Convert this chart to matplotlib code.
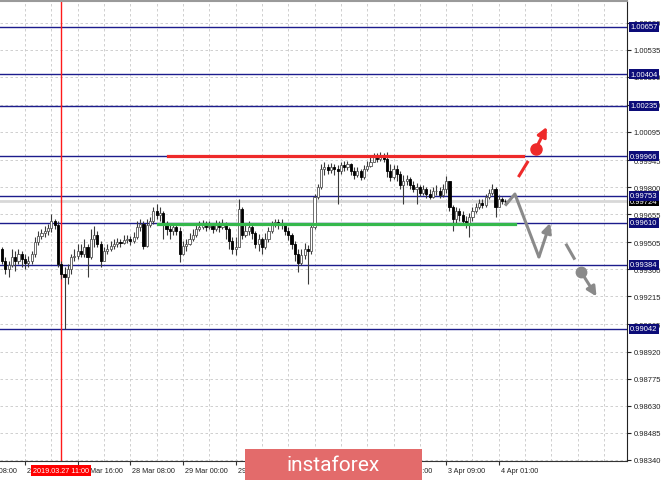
import numpy as np
import matplotlib
matplotlib.use("Agg")
import matplotlib.pyplot as plt
import matplotlib.transforms as mtransforms
from matplotlib.patches import Rectangle, FancyArrowPatch

plt.rcParams['font.family'] = ['Liberation Sans', 'DejaVu Sans']

# H1 candles, prices in points (1e-5)
first_open = 99469
close_pts = [
    99405, 99362, 99383, 99426, 99405, 99442, 99415, 99394, 99405, 99442,
    99506, 99538, 99554, 99565, 99581, 99619, 99597, 99389, 99335, 99319,
    99362, 99426, 99431, 99458, 99442, 99480, 99426, 99522, 99544, 99496,
    99405, 99458, 99469, 99485, 99496, 99506, 99501, 99517, 99522, 99512,
    99533, 99587, 99603, 99485, 99597, 99619, 99672, 99651, 99661, 99603,
    99576, 99565, 99587, 99565, 99442, 99485, 99496, 99522, 99544, 99576,
    99587, 99597, 99587, 99592, 99576, 99597, 99587, 99603, 99576, 99512,
    99469, 99480, 99683, 99544, 99565, 99587, 99554, 99496, 99522, 99480,
    99522, 99565, 99603, 99613, 99597, 99603, 99565, 99544, 99496, 99442,
    99394, 99437, 99469, 99458, 99587, 99747, 99801, 99897, 99908, 99892,
    99908, 99897, 99886, 99918, 99908, 99924, 99886, 99865, 99886, 99854,
    99897, 99913, 99934, 99961, 99950, 99966, 99950, 99886, 99854, 99897,
    99870, 99811, 99833, 99843, 99811, 99790, 99801, 99768, 99790, 99763,
    99747, 99779, 99779, 99758, 99790, 99833, 99694, 99629, 99672, 99651,
    99619, 99608, 99640, 99672, 99694, 99715, 99704, 99747, 99768, 99790,
    99694, 99736, 99726, 99724,
]
high_pts = [
    99480, 99426, 99405, 99469, 99458, 99469, 99458, 99442, 99431, 99458,
    99533, 99565, 99576, 99592, 99603, 99656, 99629, 99619, 99405, 99373,
    99389, 99442, 99469, 99496, 99496, 99522, 99496, 99576, 99592, 99565,
    99512, 99480, 99496, 99512, 99522, 99528, 99522, 99544, 99544, 99538,
    99560, 99619, 99629, 99619, 99629, 99640, 99694, 99710, 99694, 99672,
    99619, 99603, 99608, 99597, 99587, 99512, 99522, 99554, 99576, 99597,
    99619, 99624, 99619, 99619, 99608, 99624, 99619, 99629, 99613, 99587,
    99533, 99533, 99736, 99694, 99608, 99619, 99597, 99565, 99549, 99533,
    99554, 99587, 99619, 99629, 99629, 99629, 99608, 99587, 99554, 99512,
    99469, 99469, 99501, 99490, 99603, 99763, 99817, 99924, 99934, 99924,
    99929, 99924, 99918, 99934, 99940, 99940, 99929, 99908, 99908, 99897,
    99918, 99940, 99961, 99982, 99982, 99988, 99982, 99988, 99924, 99918,
    99918, 99886, 99865, 99865, 99854, 99833, 99822, 99811, 99811, 99801,
    99790, 99801, 99811, 99801, 99817, 99859, 99833, 99704, 99694, 99688,
    99672, 99645, 99661, 99694, 99715, 99736, 99736, 99763, 99790, 99817,
    99801, 99758, 99747, 99736,
]
low_pts = [
    99389, 99335, 99319, 99373, 99351, 99389, 99373, 99362, 99373, 99389,
    99426, 99490, 99522, 99533, 99544, 99560, 99576, 99373, 99308, 99041,
    99282, 99335, 99405, 99415, 99426, 99426, 99319, 99415, 99480, 99480,
    99373, 99405, 99442, 99458, 99469, 99480, 99480, 99496, 99501, 99490,
    99501, 99522, 99565, 99469, 99480, 99587, 99603, 99629, 99619, 99522,
    99544, 99522, 99544, 99544, 99399, 99437, 99458, 99490, 99512, 99533,
    99565, 99576, 99565, 99576, 99554, 99565, 99560, 99576, 99522, 99469,
    99442, 99437, 99480, 99522, 99533, 99544, 99522, 99474, 99458, 99442,
    99469, 99506, 99554, 99587, 99576, 99576, 99544, 99517, 99469, 99405,
    99346, 99383, 99415, 99282, 99442, 99576, 99736, 99790, 99865, 99870,
    99875, 99865, 99710, 99870, 99886, 99892, 99865, 99843, 99854, 99838,
    99843, 99886, 99908, 99940, 99934, 99940, 99934, 99854, 99833, 99843,
    99833, 99790, 99710, 99811, 99790, 99774, 99710, 99752, 99758, 99742,
    99736, 99742, 99758, 99742, 99747, 99768, 99672, 99565, 99608, 99619,
    99597, 99581, 99533, 99619, 99661, 99683, 99688, 99694, 99736, 99758,
    99640, 99704, 99710, 99710,
]

# levels drawn on the chart
levels = [1.00657, 1.00404, 1.00235, 0.99966, 0.99753, 0.99610, 0.99384, 0.99042]
last_price = 0.99724
resistance = 0.99966
support = 0.99600
price_ticks = [0.98340, 0.98485, 0.98630, 0.98775, 0.98920, 0.99065, 0.99215,
               0.99360, 0.99505, 0.99655, 0.99800, 0.99945, 1.00095, 1.00240,
               1.00390, 1.00535, 1.00680]

# time axis (bar index -> label); labels fully under the watermark are left out
time_tick_bars = [-9, 7, 23, 39, 55, 71, 87, 103, 119, 135, 151]
time_tick_labels = ['26 Mar 08:00', '27 Mar 00:00', '27 Mar 16:00', '28 Mar 08:00',
                    '29 Mar 00:00', '29 Mar 16:00', '', '',
                    '2 Apr 16:00', '3 Apr 09:00', '4 Apr 01:00']
cursor_bar = 18
cursor_label = '2019.03.27 11:00'

# forecast paths (bar index, price)
down_path_x = [152.9, 155.9, 163.2, 166.6]
down_path_y = [0.99701, 0.99763, 0.99426, 0.99608]
red_dash_x = [157.2, 159.7]
red_dash_y = [0.99861, 0.99933]
red_arrow = [(162.2, 1.00004), (165.6, 1.00122)]
gray_dash_x = [171.6, 173.9]
gray_dash_y = [0.99490, 0.99419]
gray_arrow = [(176.1, 0.99344), (180.7, 0.99215)]

NAVY = '#1c1c8c'
closes = np.array(close_pts) / 1e5
highs = np.array(high_pts) / 1e5
lows = np.array(low_pts) / 1e5
opens = np.concatenate([[first_open / 1e5], closes[:-1]])
idx = np.arange(len(closes))

fig = plt.figure(figsize=(6.65, 4.81), dpi=100)
ax = fig.add_axes([0, 19 / 481, 627 / 665, 460.5 / 481])
ax.set_xlim(-0.61, 189.97)
ax.set_ylim(0.983346, 1.007985)

# grid
ax.set_yticks(price_ticks)
ax.set_yticklabels([f'{v:.5f}' for v in price_ticks])
ax.set_xticks([b for b in time_tick_bars if b >= 0])
ax.set_xticklabels([])
ax.set_xticks(np.arange(7, 190, 8), minor=True)
ax.grid(True, which='both', linestyle=(0, (3, 3)), color='#c8c8c8', linewidth=0.6)
ax.tick_params(axis='x', which='minor', length=0)
ax.tick_params(axis='x', which='major', length=3, color='#333')
ax.yaxis.tick_right()
ax.tick_params(axis='y', length=3, pad=2, labelsize=5.5, colors='#222')
ax.set_axisbelow(True)

ax.spines['left'].set_visible(False)
ax.spines['top'].set_color('#9a9a9a')
ax.spines['top'].set_linewidth(1.5)
ax.spines['right'].set_color('#222')
ax.spines['bottom'].set_color('#333')

# level lines
ax.axhline(last_price, color='#d8d8d8', linewidth=2, zorder=1)
for lv in levels:
    ax.axhline(lv, color=NAVY, linewidth=1, zorder=1.5)
ax.axvline(cursor_bar, color='#ff1a1a', linewidth=1, zorder=1.6)

# candles
up = closes >= opens
wick_lo = np.minimum(lows, np.minimum(opens, closes))
wick_hi = np.maximum(highs, np.maximum(opens, closes))
ax.vlines(idx, wick_lo, wick_hi, color='#3a3a3a', linewidth=0.8, zorder=3)
body = np.maximum(np.abs(closes - opens), 0.00002)
ax.bar(idx[up], body[up], bottom=np.minimum(opens, closes)[up], width=0.65,
       color='white', edgecolor='#555', linewidth=0.6, zorder=4)
ax.bar(idx[~up], body[~up], bottom=np.minimum(opens, closes)[~up], width=0.65,
       color='black', edgecolor='black', linewidth=0.6, zorder=4)

# support / resistance
ax.plot([50.5, 158.3], [resistance, resistance], color='#ee2a2a', linewidth=2.3, zorder=5)
ax.plot([47.4, 156.0], [support, support], color='#35b84c', linewidth=2.3, zorder=5)

# forecast arrows
GRAY = '#8a8a8a'
ax.plot(down_path_x[:3], down_path_y[:3], color=GRAY, linewidth=2.2, zorder=6,
        solid_capstyle='butt')
ax.add_patch(FancyArrowPatch((down_path_x[2], down_path_y[2]), (down_path_x[3], down_path_y[3]),
                             arrowstyle='-|>', mutation_scale=14, color=GRAY,
                             linewidth=2.2, shrinkA=0, shrinkB=0, zorder=6))
ax.plot(red_dash_x, red_dash_y, color='#ee2a2a', linewidth=2.2, zorder=6)
ax.plot(*red_arrow[0], 'o', color='#ee2a2a', markersize=8, zorder=6)
ax.add_patch(FancyArrowPatch(red_arrow[0], red_arrow[1], arrowstyle='-|>',
                             mutation_scale=14, color='#ee2a2a', linewidth=2.2,
                             shrinkA=0, shrinkB=0, zorder=6))
ax.plot(gray_dash_x, gray_dash_y, color=GRAY, linewidth=2.2, zorder=6)
ax.plot(*gray_arrow[0], 'o', color=GRAY, markersize=7.5, zorder=6)
ax.add_patch(FancyArrowPatch(gray_arrow[0], gray_arrow[1], arrowstyle='-|>',
                             mutation_scale=14, color=GRAY, linewidth=2.2,
                             shrinkA=0, shrinkB=0, zorder=6))

# price labels on the right (current price under the level boxes)
ytrans = mtransforms.blended_transform_factory(ax.transAxes, ax.transData)
ax.text(1.005, last_price, f'{last_price:.5f}', transform=ytrans, ha='left', va='center',
        fontsize=5.5, color='white', clip_on=False, zorder=9,
        bbox=dict(boxstyle='square,pad=0.2', fc='black', ec='none'))
for lv in levels:
    ax.text(1.005, lv, f'{lv:.5f}', transform=ytrans, ha='left', va='center',
            fontsize=5.5, color='white', clip_on=False, zorder=10,
            bbox=dict(boxstyle='square,pad=0.2', fc='#0c0c78', ec='none'))

# time labels
xtrans = ax.get_xaxis_transform()
for b, lab in zip(time_tick_bars, time_tick_labels):
    if lab:
        ax.text(b + 0.6, -0.02, lab, transform=xtrans, ha='left', va='center',
                fontsize=5.2, color='#222', clip_on=False)
ax.text(cursor_bar, -0.02, cursor_label, transform=xtrans, ha='center', va='center',
        fontsize=5.2, color='white', clip_on=False, zorder=10,
        bbox=dict(boxstyle='square,pad=0.25', fc='#ff0000', ec='none'))

# watermark
fig.add_artist(Rectangle((245 / 665, 0), 177 / 665, 31 / 481, transform=fig.transFigure,
                         fc='#e36b6b', ec='none', zorder=20))
fig.text(333 / 665, 15 / 481, 'instaforex', color='white', fontsize=15,
         ha='center', va='center', family='Roboto', zorder=21)

fig.savefig('out.png', dpi=100)
